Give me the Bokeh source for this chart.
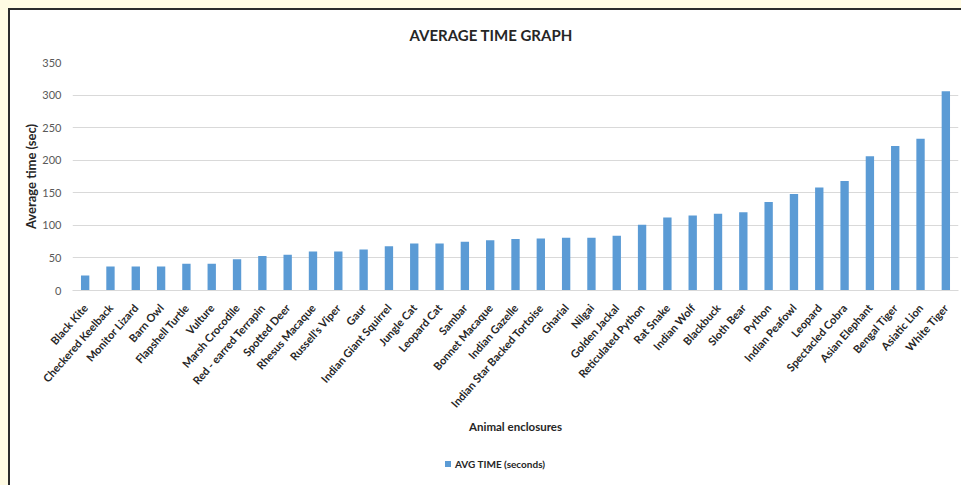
from bokeh.plotting import figure
from bokeh.models import ColumnDataSource, FactorRange, Range1d, Div
from bokeh.layouts import column
from bokeh.embed import file_html
from bokeh.resources import INLINE

animals = ["Black Kite", "Checkered Keelback", "Monitor Lizard", "Barn Owl",
           "Flapshell Turtle", "Vulture", "Marsh Crocodile", "Red - earred Terrapin",
           "Spotted Deer", "Rhesus Macaque", "Russell's Viper", "Gaur",
           "Indian Giant Squirrel", "Jungle Cat", "Leopard Cat", "Sambar",
           "Bonnet Macaque", "Indian Gazelle", "Indian Star Backed Tortoise",
           "Gharial", "Nilgai", "Golden Jackal", "Reticulated Python", "Rat Snake",
           "Indian Wolf", "Blackbuck", "Sloth Bear", "Python", "Indian Peafowl",
           "Leopard", "Spectacled Cobra", "Asian Elephant", "Bengal Tiger",
           "Asiatic Lion", "White Tiger"]
avg_time = [23, 37, 37, 37, 41, 41, 48, 53, 55, 60, 60, 63, 68, 72, 72, 75, 77,
            79, 80, 81, 81, 84, 101, 112, 115, 118, 120, 136, 148, 158, 168, 206,
            222, 233, 306]
y_ticks = [0, 50, 100, 150, 200, 250, 300, 350]
series_name = "AVG TIME (seconds)"

FONT = "Lato"
BAR = "#5b9bd5"
CREAM = "#fffbe3"
EDGE = "#2b2b2b"
source = ColumnDataSource(dict(animal=animals, avg=avg_time))

p = figure(width=961, height=445,
           x_range=FactorRange(factors=animals), y_range=Range1d(0, 350),
           output_backend="svg", toolbar_location=None,
           min_border_left=72, min_border_right=3,
           min_border_top=62, min_border_bottom=155)

p.title.text = "AVERAGE TIME GRAPH"
p.title.align = "left"
p.title.offset = 337
p.title.standoff = 38
p.title.text_font = FONT
p.title.text_font_size = "15px"
p.title.text_font_style = "bold"
p.title.text_color = "#262626"

r = p.vbar(x="animal", top="avg", width=0.33, source=source,
           fill_color=BAR, line_color=None)

p.outline_line_color = None
p.background_fill_color = "white"
p.border_fill_alpha = 0
p.xgrid.grid_line_color = None
p.ygrid.grid_line_color = "#d9d9d9"
p.ygrid.grid_line_width = 1

p.yaxis.ticker = y_ticks
p.yaxis.axis_line_color = None
p.yaxis.major_tick_line_color = None
p.yaxis.minor_tick_line_color = None
p.yaxis.major_label_text_font = FONT
p.yaxis.major_label_text_font_size = "11px"
p.yaxis.major_label_text_color = "#595959"
p.yaxis.major_label_standoff = 5
p.yaxis.axis_label = "Average time (sec)"
p.yaxis.axis_label_text_font = FONT
p.yaxis.axis_label_text_font_size = "13px"
p.yaxis.axis_label_text_font_style = "bold"
p.yaxis.axis_label_text_color = "#262626"
p.yaxis.axis_label_standoff = 0

p.xaxis.axis_line_color = "#d9d9d9"
p.xaxis.major_tick_line_color = None
p.xaxis.minor_tick_line_color = None
p.xaxis.major_label_orientation = 0.85
p.xaxis.major_label_text_font = FONT
p.xaxis.major_label_text_font_size = "11px"
p.xaxis.major_label_text_font_style = "bold"
p.xaxis.major_label_text_color = "#262626"
p.xaxis.major_label_standoff = 9
p.xaxis.axis_label = "Animal enclosures"
p.xaxis.axis_label_text_font = FONT
p.xaxis.axis_label_text_font_size = "11.5px"
p.xaxis.axis_label_text_font_style = "bold"
p.xaxis.axis_label_text_color = "#262626"
p.xaxis.axis_label_standoff = 3

legend_div = Div(
    text=('<span style="display:inline-block;width:6px;height:6px;'
          f'background:{BAR};margin-right:4px;vertical-align:middle"></span>'
          f'<span style="vertical-align:middle">{series_name}</span>'),
    width=961, height=40,
    styles={"font-family": "Lato", "font-size": "10px", "font-weight": "bold",
            "color": "#262626",
            "padding-left": "440px", "padding-top": "6px",
            "box-sizing": "border-box"})

layout = column(p, legend_div, spacing=0,
                styles={"background-color": "white",
                        "box-shadow": (f"inset 8px 8px 0 0 {CREAM}, "
                                       f"inset 10px 10px 0 0 {EDGE}, "
                                       "inset 0 -2px 0 0 #e4e4e4")})

open("out.html", "w").write(file_html(layout, INLINE))
